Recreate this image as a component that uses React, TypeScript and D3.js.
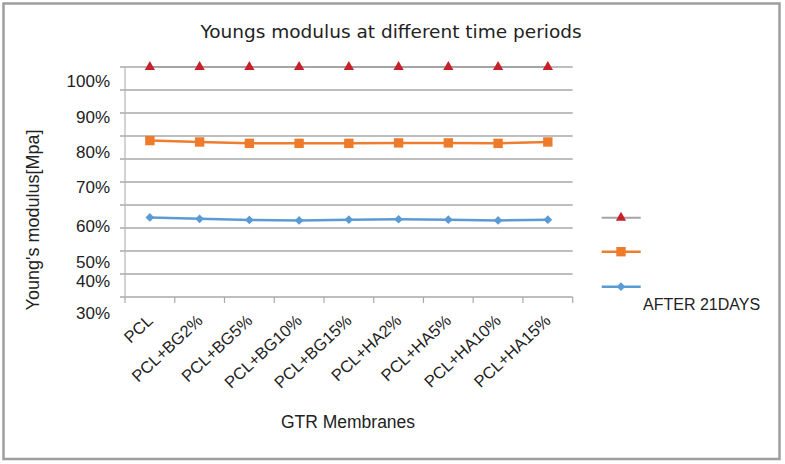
import React from 'react';
import * as d3 from 'd3';

const categories = ['PCL', 'PCL+BG2%', 'PCL+BG5%', 'PCL+BG10%', 'PCL+BG15%', 'PCL+HA2%', 'PCL+HA5%', 'PCL+HA10%', 'PCL+HA15%'];
const seriesTop = [100, 100, 100, 100, 100, 100, 100, 100, 100];
const seriesMid = [68.0, 67.4, 66.8, 66.8, 66.8, 67.0, 67.0, 66.8, 67.4];
const seriesLow = [34.6, 34.0, 33.5, 33.3, 33.6, 33.8, 33.6, 33.3, 33.6];
const seriesNames = ['', '', 'AFTER 21DAYS'];
const gridValues = [0, 10, 20, 30, 40, 50, 60, 70, 80, 90, 100];
const yTickLabels = ['100%', '90%', '80%', '70%', '60%', '50%', '40%', '30%'];
const yTickLabelPos = [93.9, 78.4, 63.0, 47.8, 30.9, 15.2, 7.0, -7.0];

const W = 785;
const H = 464;
const plot = { left: 125, right: 572.7, top: 67, bottom: 297 };

export default function App() {
  const x = d3.scaleBand<string>().domain(categories).range([plot.left, plot.right]).padding(0);
  const y = d3.scaleLinear().domain([0, 100]).range([plot.bottom, plot.top]);
  const cx = (c: string) => (x(c) as number) + x.bandwidth() / 2;
  const line = d3.line<number>().x((_, i) => cx(categories[i])).y((d) => y(d));
  const tri = d3.symbol().type(d3.symbolTriangle).size(46)() as string;
  const sq = d3.symbol().type(d3.symbolSquare).size(88)() as string;
  const dia = d3.symbol().type(d3.symbolSquare).size(38)() as string;
  const font = 'Liberation Sans, Arial, sans-serif';

  const series = [
    { values: seriesTop, stroke: '#A5A5A5', width: 2, marker: tri, fill: '#C8202A', rot: 0 },
    { values: seriesMid, stroke: '#ED7D31', width: 2.5, marker: sq, fill: '#EE7A2C', rot: 0 },
    { values: seriesLow, stroke: '#5B9BD5', width: 2.5, marker: dia, fill: '#5B9BD5', rot: 45 },
  ];
  const legendY = [217.7, 251.7, 286.7];
  const boundaries = categories.map((c) => x(c) as number).concat([plot.right]);

  return (
    <svg width={W} height={H} style={{ position: 'absolute', left: 0, top: 0, background: '#fff' }}>
      <rect x={0} y={0} width={W} height={H} fill="#fff" />
      <rect x={3.5} y={3.5} width={776} height={455.5} fill="#fff" stroke="#9E9E9E" strokeWidth={2.5} />
      <text x={391} y={38} textAnchor="middle" fontFamily="DejaVu Sans, sans-serif" fontSize={18.5} fill="#222">
        Youngs modulus at different time periods
      </text>
      {gridValues.map((v) => (
        <line key={v} x1={plot.left - 5} x2={plot.right} y1={y(v)} y2={y(v)} stroke="#A9A9A9" strokeWidth={1.5} />
      ))}
      <line x1={plot.left} x2={plot.left} y1={plot.top} y2={plot.bottom} stroke="#B5B5B5" strokeWidth={1.2} />
      {boundaries.map((b, i) => (
        <line key={i} x1={b} x2={b} y1={plot.bottom} y2={plot.bottom + 6} stroke="#A9A9A9" strokeWidth={1.2} />
      ))}
      {yTickLabels.map((t, i) => (
        <text key={t} x={110} y={y(yTickLabelPos[i])} dy="0.36em" textAnchor="end" fontFamily={font} fontSize={17} fill="#222">
          {t}
        </text>
      ))}
      <text transform="translate(39,220) rotate(-90)" textAnchor="middle" fontFamily={font} fontSize={18} fill="#222">
        Young's modulus[Mpa]
      </text>
      {categories.map((c) => (
        <text key={c} transform={`translate(${cx(c) + 4},${plot.bottom + 25}) rotate(-43)`} textAnchor="end" fontFamily={font} fontSize={16.5} fill="#222">
          {c}
        </text>
      ))}
      <text x={348} y={428} textAnchor="middle" fontFamily={font} fontSize={17.5} fill="#222">
        GTR Membranes
      </text>
      {series.map((s, si) => (
        <g key={si}>
          <path d={line(s.values) as string} fill="none" stroke={s.stroke} strokeWidth={s.width} />
          {s.values.map((v, i) => (
            <path key={i} d={s.marker} transform={`translate(${cx(categories[i])},${y(v)}) rotate(${s.rot})`} fill={s.fill} />
          ))}
          <line x1={601.7} x2={640.7} y1={legendY[si]} y2={legendY[si]} stroke={s.stroke} strokeWidth={s.width} />
          <path d={s.marker} transform={`translate(621,${legendY[si]}) rotate(${s.rot})`} fill={s.fill} />
          {seriesNames[si] && (
            <text x={643} y={309.5} fontFamily={font} fontSize={16} fill="#222">
              {seriesNames[si]}
            </text>
          )}
        </g>
      ))}
    </svg>
  );
}
